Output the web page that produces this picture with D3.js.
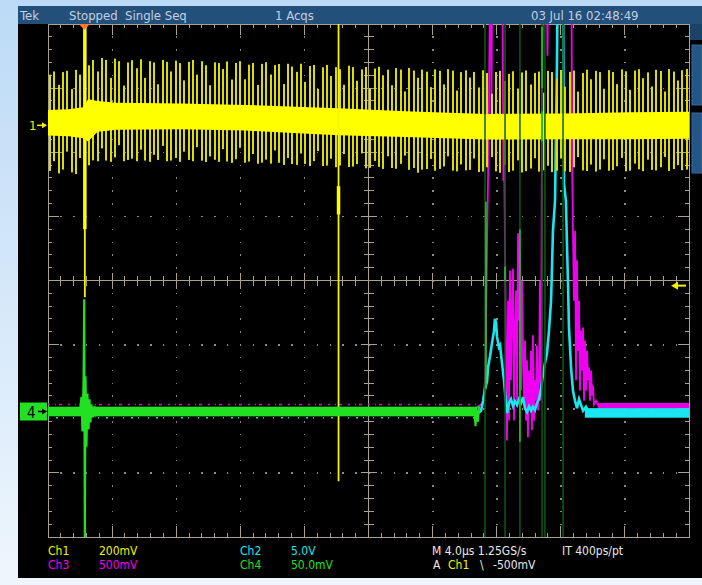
<!DOCTYPE html>
<html lang="en">
<head>
<meta charset="utf-8">
<script src="https://cdn.jsdelivr.net/npm/d3@7"></script>
<style>
  html, body { margin: 0; padding: 0; background: #cfe6fa; overflow: hidden; }
  svg text { font-family: "Liberation Sans Narrow", "Arial Narrow", "DejaVu Sans Condensed", sans-serif; }
</style>
</head>
<body>
<div id="scope"></div>

<script>
// ---- values (time in us, trigger at 0; traces in divisions / mV) ----
var timeRange = [-2.3, 37.7];          // 4 us/div over 10 divisions
var divRange = [-4, 4];

// channel ground positions on screen (divisions)
var ch1Pos = 2.42, ch2Pos = -2.05, ch3Pos = -1.965, ch4Pos = -2.043;
var trigLevelMv = -500;                // A Ch1 falling, -500mV

// Ch1: ringing spikes (mV from trace centre, 200mV/div), one per sample cluster
var ch1Hi = [
  150,160,118,158,162,105,165,150,128,170,
  178,140,182,176,120,180,172,96,168,175,
  150,178,120,172,168,100,176,170,140,174,
  166,112,170,176,130,172,160,98,170,168,
  150,174,118,170,176,120,166,172,104,170,
  176,138,168,172,110,174,166,150,176,120,
  170,174,100,168,176,142,170,164,116,176,
  172,130,166,174,108,170,176,150,168,120,
  174,170,102,176,168,146,172,166,118,174,
  170,128,176,172,110,168,174,152,170,122,
  176,168,104,172,176,144,166,174,120,170,
  176,132,168,172,106,174,170,150,176,124,
  170,174,108,166,176,146,172,168,116,174,
  168,130,176,170,112,172,176,148,166,122,
  174,170,106,176,168,140,172,176
];
var ch1Lo = [
  -150,-120,-158,-146,-90,-155,-160,-110,-150,-142,
  -135,-140,-100,-138,-142,-128,-90,-140,-136,-132,
  -140,-104,-138,-142,-120,-136,-92,-140,-138,-130,
  -142,-110,-136,-140,-96,-138,-142,-124,-134,-140,
  -100,-138,-142,-130,-94,-140,-136,-112,-142,-138,
  -128,-140,-98,-136,-142,-120,-138,-140,-104,-136,
  -142,-126,-94,-140,-138,-116,-142,-136,-100,-140,
  -138,-130,-96,-142,-140,-118,-136,-142,-102,-138,
  -140,-124,-98,-142,-136,-150,-140,-138,-106,-142,
  -136,-128,-96,-140,-142,-120,-138,-136,-100,-142,
  -140,-126,-94,-138,-142,-118,-140,-136,-104,-142,
  -138,-130,-98,-140,-136,-122,-142,-138,-100,-140,
  -142,-128,-96,-138,-140,-120,-142,-136,-104,-140,
  -138,-126,-100,-142,-140,-118,-136,-142,-106,-138,
  -140,-130,-98,-142,-136,-124,-140,-138
];
var ch1SpikeSpan = [-2.18, 37.55];
// Ch1 trace centre drift (mV above ground)
var ch1CenterT  = [-2.3, -0.05, 0.6, 7.2, 10.9, 15.3, 19.7, 25.9, 32.2, 37.7];
var ch1CenterMv = [   8,     8,  28,  28,   22,   12,    4,   -6,   -2,    0];
// Ch1 dense noise band (half width in mV)
var ch1BandT    = [-2.3, -1.0, -0.1, 0.2, 0.8, 2.0, 6.0, 10.0, 15.8, 20.0, 25.0, 30.0, 34.0, 37.7];
var ch1BandHalf = [  40,   42,   48,  66,  48,  42,  40,   40,   42,   40,   40,   40,   42,   42];
// Ch1 glitches: trigger edge and the later drop (mV from ground)
var ch1EventT       = [0.0, 15.83];
var ch1EventHi      = [400, 400];
var ch1EventLo      = [-536, -1110];
var ch1EventThickHi = [400, -190];
var ch1EventThickLo = [-324, -278];

// Ch2 (cyan) pulse, divisions from ground
var ch2T = [24.53,24.72,24.85,24.97,25.10,25.16,25.28,25.41,25.53,25.59,25.66,25.72,25.84,25.91,26.03,26.16,26.22,26.34,
            26.47,26.59,26.72,26.84,26.97,27.09,27.22,27.34,27.47,27.59,27.72,27.84,27.96,28.09,28.21,28.34,28.46,28.59,
            28.71,28.84,28.96,29.09,29.15,29.21,29.34,29.40,29.46,29.50,29.84,29.90,30.02,30.08,30.15,30.21,30.27,30.34,
            30.46,30.59,30.71,30.84,30.96,31.09,31.27,31.46];
var ch2V = [-0.02,0.02,0.17,0.36,0.48,0.70,0.86,1.08,1.26,1.45,1.39,1.17,1.01,1.04,0.76,0.48,0.30,-0.02,
            0.14,0.20,0.09,0.17,0.11,0.20,0.14,0.23,0.05,0.00,0.09,0.02,0.08,0.03,0.14,0.20,0.36,0.58,
            0.76,0.92,1.26,1.73,2.23,2.82,3.29,4.38,5.43,6.5,6.5,3.56,3.29,2.67,2.00,1.31,1.03,0.69,
            0.33,0.17,0.06,0.20,0.11,0.02,0.08,-0.02];
var ch2Settled = [31.2, 37.7];
var ch2Hidden  = [-2.3, 24.6];

// Ch3 (magenta) bursts, divisions from ground
var ch3T = [24.41,24.66,24.85,24.97,25.03,25.09,25.16,25.22,25.28,25.35,25.37,25.41,26.06,26.12,26.16,26.22,26.28,26.34,
            26.41,26.47,26.53,26.59,26.66,26.72,26.78,26.84,26.91,26.97,27.03,27.09,27.15,27.22,27.28,27.34,27.40,27.47,
            27.53,27.59,27.65,27.72,27.78,27.84,27.90,27.96,28.03,28.09,28.15,28.21,28.28,28.34,28.40,28.46,28.49,28.53,
            28.59,28.84,28.87,28.90,30.37,30.40,30.46,30.52,30.59,30.65,30.71,30.77,30.84,30.90,30.96,31.02,31.09,31.15,
            31.21,31.27,31.34,31.40,31.46,31.52,31.59,31.65,31.71,31.77,31.90,32.02];
var ch3V = [-0.02,0.02,0.06,0.41,1.14,2.43,3.57,4.77,6.5,6.5,4.51,6.5,6.5,3.52,3.99,2.48,0.87,-0.53,
            1.65,-0.22,2.12,0.41,1.65,2.15,-0.22,1.19,1.81,0.09,2.70,1.34,2.43,0.25,1.96,0.87,0.09,1.03,
            -0.22,0.72,-0.48,0.56,-0.06,0.87,-0.37,1.11,-0.22,0.41,0.09,0.95,-0.06,0.41,1.96,0.09,1.65,4.97,
            6.5,6.5,5.47,6.5,6.5,3.95,2.74,1.65,2.74,0.41,2.28,0.87,1.65,0.25,1.19,0.56,1.23,0.09,
            1.03,0.25,0.87,0.41,0.61,0.09,0.56,0.17,0.33,0.03,0.09,0.02];
var ch3Settled = [32.0, 37.7];
var ch3Hidden  = [-2.3, 24.4];

// Ch4 (green): trigger ringing and the glitches during the pulse
var ch4RingT = [-0.30,-0.21,-0.15,-0.08,-0.04,0.00,0.04,0.10,0.16,0.23,0.29,0.35,0.41,0.51,0.60,0.70,0.82];
var ch4RingV = [0,0.23,-0.31,0.47,1.75,-2.0,0.55,-0.55,0.28,-0.28,0.19,-0.17,0.11,-0.09,0.08,-0.05,0];
var ch4EndT = [24.30,24.38,24.45,24.53,24.60];
var ch4EndV = [0,-0.23,0.02,-0.16,0.08];
var ch4BandSpan = [-2.3, 24.5];
var ch4GlitchT = [24.97, 26.22, 27.15, 28.53, 28.71, 29.84];
var ch4BurstT   = [25.03, 26.22, 27.15, 28.53, 28.53];
var ch4BurstTop = [3.27, 2.26, 2.84, 6.0, 4.68];
var ch4BurstBot = [0.36, 2.03, -0.47, 5.04, 4.21];

// readouts
var chNames  = ["Ch1", "Ch2", "Ch3", "Ch4"];
var chScales = ["200mV", "5.0V", "500mV", "50.0mV"];
var chColors = ["#f2f200", "#19e6f0", "#f000f0", "#22e022"];

// ---- layout ----
var W = 702, H = 585;
var gLeft = 48, gRight = 689, gTop = 24, gBottom = 537;

var svg = d3.select("#scope")
  .append("svg")
    .attr("width", W)
    .attr("height", H);

var defs = svg.append("defs");
var bg = defs.append("linearGradient").attr("id", "bg")
    .attr("x1", 0).attr("y1", 0).attr("x2", 0).attr("y2", 1);
bg.append("stop").attr("offset", "0%").attr("stop-color", "#bcdaf6");
bg.append("stop").attr("offset", "100%").attr("stop-color", "#eef6fd");
defs.append("clipPath").attr("id", "screen")
  .append("rect").attr("x", gLeft).attr("y", gTop).attr("width", gRight - gLeft).attr("height", gBottom - gTop);

svg.append("rect").attr("width", W).attr("height", H).attr("fill", "url(#bg)");
svg.append("rect").attr("x", 18).attr("y", 6).attr("width", W - 18).attr("height", 572).attr("fill", "#000");
svg.append("rect").attr("x", 18).attr("y", 6).attr("width", W - 18).attr("height", 18).attr("fill", "#22507b");
svg.append("rect").attr("x", 690).attr("y", 24).attr("width", 12).attr("height", 16).attr("fill", "#1c4268");
svg.append("rect").attr("x", 692).attr("y", 45).attr("width", 10).attr("height", 60)
    .attr("fill", "#245587").attr("stroke", "#3b6b9c");
svg.append("rect").attr("x", 692).attr("y", 113).attr("width", 10).attr("height", 60)
    .attr("fill", "#245587").attr("stroke", "#3b6b9c");

// header text
var header = svg.append("g").attr("fill", "#c2cfe0").style("font-size", "13px");
header.append("text").attr("x", 20).attr("y", 20).text("Tek");
header.append("text").attr("x", 69).attr("y", 20).attr("xml:space", "preserve").text("Stopped  Single Seq");
header.append("text").attr("x", 275).attr("y", 20).text("1 Acqs");
header.append("text").attr("x", 531).attr("y", 20).text("03 Jul 16 02:48:49");

// scales
var x = d3.scaleLinear().domain(timeRange).range([gLeft, gRight]);
var y = d3.scaleLinear().domain(divRange).range([gBottom, gTop]);
var gx = d3.scaleLinear().domain([0, 10]).range([gLeft, gRight]);
var gy = d3.scaleLinear().domain([-4, 4]).range([gBottom, gTop]);

// ---- graticule ----
var grat = svg.append("g").attr("shape-rendering", "crispEdges");
var gridCol = "#a8a28a";
var minorX = d3.range(1, 50).map(function(i) { return i / 5; });
var minorY = d3.range(-19, 20).map(function(i) { return i / 5; });

// dotted major lines
[1,2,3,4,6,7,8,9].forEach(function(k) {
  grat.selectAll(null).data(minorY).enter().append("rect")
      .attr("x", gx(k) - 0.5).attr("y", function(d) { return gy(d) - 0.5; })
      .attr("width", 1.5).attr("height", 1.5).attr("fill", "#8d8a78");
});
[-3,-2,-1,1,2,3].forEach(function(k) {
  grat.selectAll(null).data(minorX).enter().append("rect")
      .attr("x", function(d) { return gx(d) - 0.5; }).attr("y", gy(k) - 0.5)
      .attr("width", 1.5).attr("height", 1.5).attr("fill", "#8d8a78");
});

grat.append("rect").attr("x", gLeft).attr("y", gTop).attr("width", gRight - gLeft).attr("height", gBottom - gTop)
    .attr("fill", "none").attr("stroke", gridCol);
grat.append("line").attr("x1", gLeft).attr("x2", gRight).attr("y1", gy(0)).attr("y2", gy(0)).attr("stroke", gridCol);
grat.append("line").attr("x1", gx(5)).attr("x2", gx(5)).attr("y1", gTop).attr("y2", gBottom).attr("stroke", gridCol);

function isMajor(v) { return Math.abs(v - Math.round(v)) < 1e-6; }

grat.selectAll(".tx").data(minorX).enter().append("path")
    .attr("stroke", gridCol)
    .attr("d", function(d) {
      var l = isMajor(d) ? 11 : 4, c = isMajor(d) ? 8 : 5, px = gx(d);
      return "M" + px + "," + gTop + "v" + l +
             "M" + px + "," + gBottom + "v" + (-l) +
             "M" + px + "," + (gy(0) - c) + "v" + (2 * c);
    });
grat.selectAll(".ty").data(minorY).enter().append("path")
    .attr("stroke", gridCol)
    .attr("d", function(d) {
      var l = isMajor(d) ? 11 : 4, c = isMajor(d) ? 8 : 5, py = gy(d);
      return "M" + gLeft + "," + py + "h" + l +
             "M" + gRight + "," + py + "h" + (-l) +
             "M" + (gx(5) - c) + "," + py + "h" + (2 * c);
    });

// ---- traces ----
var traces = svg.append("g").attr("clip-path", "url(#screen)");

function bandRect(g, span, pos, hi, lo, col) {
  g.append("rect")
    .attr("x", x(span[0])).attr("width", x(span[1]) - x(span[0]))
    .attr("y", y(pos + hi)).attr("height", y(pos + lo) - y(pos + hi))
    .attr("fill", col);
}
function speckle(g, span, pos, d, col, dash) {
  g.append("line")
    .attr("x1", x(span[0])).attr("x2", x(span[1]))
    .attr("y1", y(pos + d)).attr("y2", y(pos + d))
    .attr("stroke", col).attr("stroke-width", 1.5).attr("stroke-dasharray", dash);
}

// Ch3 magenta
var ch3 = traces.append("g");
speckle(ch3, ch3Hidden, ch3Pos, 0.03, "#e000e0", "2,5,1,3,3,6");
bandRect(ch3, ch3Settled, ch3Pos, 0.055, -0.03, "#e600e6");
ch3.append("path")
    .datum(d3.zip(ch3T, ch3V))
    .attr("fill", "none").attr("stroke", "#f000f0").attr("stroke-width", 1.8)
    .attr("d", d3.line().x(function(d) { return x(d[0]); }).y(function(d) { return y(ch3Pos + d[1]); }));

// Ch2 cyan
var ch2 = traces.append("g");
speckle(ch2, ch2Hidden, ch2Pos, -0.09, "#19d6e0", "1,7,2,5,1,9");
bandRect(ch2, ch2Settled, ch2Pos, 0.06, -0.09, "#19e6f0");
ch2.append("path")
    .datum(d3.zip(ch2T, ch2V))
    .attr("fill", "none").attr("stroke", "#19e6f0").attr("stroke-width", 2.6)
    .attr("d", d3.line().x(function(d) { return x(d[0]); }).y(function(d) { return y(ch2Pos + d[1]); }));

// Ch1 yellow
var ch1 = traces.append("g");
var centre = d3.scaleLinear().domain(ch1CenterT).range(ch1CenterMv);
function y1(mv) { return y(ch1Pos + mv / 200); }
var spikeX = d3.scaleLinear().domain([0, ch1Hi.length - 1]).range([x(ch1SpikeSpan[0]), x(ch1SpikeSpan[1])]);
function spikeC(i) { return centre(x.invert(spikeX(i))); }
ch1.selectAll(".spike").data(ch1Hi).enter().append("rect")
    .attr("x", function(d, i) { return Math.round(spikeX(i)) - 1; })
    .attr("width", 2)
    .attr("y", function(d, i) { return y1(spikeC(i) + d); })
    .attr("height", function(d, i) { return y1(spikeC(i) + ch1Lo[i]) - y1(spikeC(i) + d); })
    .attr("fill", "#dcdc00");
ch1.append("path")
    .datum(d3.zip(ch1BandT, ch1BandHalf))
    .attr("fill", "#ffff00")
    .attr("d", d3.area().x(function(d) { return x(d[0]); })
        .y0(function(d) { return y1(centre(d[0]) - d[1]); })
        .y1(function(d) { return y1(centre(d[0]) + d[1]); }));
ch1.selectAll(".ev").data(ch1EventT).enter().append("line")
    .attr("x1", function(d) { return x(d); }).attr("x2", function(d) { return x(d); })
    .attr("y1", function(d, i) { return y1(ch1EventHi[i]); })
    .attr("y2", function(d, i) { return y1(ch1EventLo[i]); })
    .attr("stroke", "#f4f400").attr("stroke-width", 1.8);
ch1.selectAll(".evt").data(ch1EventT).enter().append("line")
    .attr("x1", function(d) { return x(d); }).attr("x2", function(d) { return x(d); })
    .attr("y1", function(d, i) { return y1(ch1EventThickHi[i]); })
    .attr("y2", function(d, i) { return y1(ch1EventThickLo[i]); })
    .attr("stroke", "#ffff00").attr("stroke-width", 3.5);

// Ch4 green
var ch4 = traces.append("g");
ch4.selectAll(".gl").data(ch4GlitchT).enter().append("line")
    .attr("x1", function(d) { return x(d); }).attr("x2", function(d) { return x(d); })
    .attr("y1", gTop).attr("y2", gBottom)
    .attr("stroke", "#0f5a12").attr("stroke-width", 1.5);
ch4.selectAll(".gb").data(ch4BurstT).enter().append("line")
    .attr("x1", function(d) { return x(d); }).attr("x2", function(d) { return x(d); })
    .attr("y1", function(d, i) { return y(ch4Pos + ch4BurstTop[i]); })
    .attr("y2", function(d, i) { return y(ch4Pos + ch4BurstBot[i]); })
    .attr("stroke", "#22d022").attr("stroke-width", 1.5);
bandRect(ch4, ch4BandSpan, ch4Pos, 0.075, -0.075, "#22e022");
var g4line = d3.line().x(function(d) { return x(d[0]); }).y(function(d) { return y(ch4Pos + d[1]); });
ch4.append("path").datum(d3.zip(ch4RingT, ch4RingV))
    .attr("fill", "none").attr("stroke", "#22e022").attr("stroke-width", 2.2).attr("d", g4line);
ch4.append("path").datum(d3.zip(ch4EndT, ch4EndV))
    .attr("fill", "none").attr("stroke", "#22e022").attr("stroke-width", 2).attr("d", g4line);

// ---- markers ----
var py1 = y(ch1Pos);
svg.append("text").attr("x", 29).attr("y", py1 + 5).attr("fill", "#f2f200").style("font-size", "13px").text("1");
svg.append("path").attr("d", "M37," + py1 + "H42").attr("stroke", "#f2f200").attr("stroke-width", 1.5);
svg.append("path").attr("d", "M47," + py1 + "l-5,-3v6z").attr("fill", "#f2f200");

var py4 = y(ch4Pos);
svg.append("rect").attr("x", 20).attr("y", py4 - 9).attr("width", 27).attr("height", 18).attr("fill", "#22e022");
svg.append("text").attr("x", 27).attr("y", py4 + 6).attr("fill", "#000").style("font-size", "15px").text("4");
svg.append("path").attr("d", "M38," + py4 + "H42").attr("stroke", "#000").attr("stroke-width", 1.5);
svg.append("path").attr("d", "M47," + py4 + "l-5,-3v6z").attr("fill", "#000");

// trigger level (right) and trigger position (top)
var pyT = y1(trigLevelMv);
svg.append("path").attr("d", "M686," + pyT + "H677").attr("stroke", "#f2f200").attr("stroke-width", 2);
svg.append("path").attr("d", "M671," + pyT + "l7,-4v8z").attr("fill", "#f2f200");
svg.append("path").attr("d", "M" + (x(0) - 6) + "," + gTop + "h11l-5.5,6z").attr("fill", "#ff7a2a");

// ---- readouts ----
var ro = svg.append("g").style("font-size", "12px");
var roX = [48, 240, 48, 240], roY = [555, 555, 569, 569];
chNames.forEach(function(name, i) {
  ro.append("text").attr("x", roX[i]).attr("y", roY[i]).attr("fill", chColors[i]).text(name);
  ro.append("text").attr("x", roX[i] + 51).attr("y", roY[i]).attr("fill", chColors[i]).text(chScales[i]);
});
ro.append("text").attr("x", 432).attr("y", 555).attr("fill", "#e8e8e8").text("M 4.0\u00b5s 1.25GS/s");
ro.append("text").attr("x", 562).attr("y", 555).attr("fill", "#e8e8e8").text("IT 400ps/pt");
ro.append("text").attr("x", 433).attr("y", 569).attr("fill", "#e8e8e8").text("A");
ro.append("text").attr("x", 448).attr("y", 569).attr("fill", chColors[0]).text("Ch1");
ro.append("text").attr("x", 480).attr("y", 569).attr("fill", "#e8e8e8").text("\\");
ro.append("text").attr("x", 493).attr("y", 569).attr("fill", "#e8e8e8").text("-500mV");
</script>
</body>
</html>
